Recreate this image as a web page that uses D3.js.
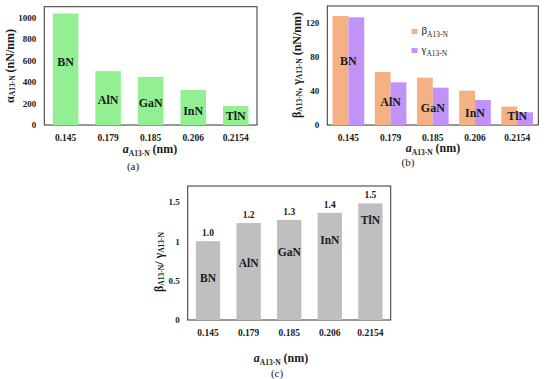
<!DOCTYPE html>
<html>
<head>
<meta charset="utf-8">
<script src="https://cdn.jsdelivr.net/npm/d3@7"></script>
<style>
  body { margin: 0; background: #fff; }
</style>
</head>
<body>
<svg id="drawing_region"></svg>
<script>
// data
const latticeTicks = ["0.145", "0.179", "0.185", "0.206", "0.2154"];
const materials = ["BN", "AlN", "GaN", "InN", "TlN"];
const alphaValues = [1037, 501, 448, 325, 176];
const betaValues = [128.2, 62.4, 55.7, 40.4, 21.6];
const gammaValues = [126.7, 50.2, 43.9, 29.4, 14.9];
const ratioValues = [1.00, 1.23, 1.27, 1.36, 1.48];
const ratioLabels = ["1.0", "1.2", "1.3", "1.4", "1.5"];
const alphaTicks = [0, 200, 400, 600, 800, 1000];
const betaTicks = [0, 40, 80, 120];
const ratioTicks = [0, 0.5, 1, 1.5];

// where the material names sit inside the bars (in data units)
const nameYA = [585, 232, 204, 130, 84];
const nameYB = [75, 27.4, 19.6, 13.8, 11];
const nameYC = [0.53, 0.72, 0.86, 1.02, 1.27];

const FONT = 'Liberation Serif';
const ink = '#1a1a1a';

const svg = d3.select('#drawing_region')
    .attr('width', 550)
    .attr('height', 379)
    .attr('font-family', FONT);

function panel(box, ymax, yticks, tickFmt){
    let g = svg.append('g');
    let x = d3.scaleBand()
        .domain(latticeTicks)
        .range([box.left, box.right]);
    let y = d3.scaleLinear()
        .domain([0, ymax])
        .range([box.bottom, box.top]);

    g.append('rect')
        .attr('x', box.left).attr('y', box.top)
        .attr('width', box.right - box.left)
        .attr('height', box.bottom - box.top)
        .attr('fill', 'none')
        .attr('stroke', '#333')
        .attr('stroke-width', 1);

    let yaxis = g.append('g')
        .attr('transform', `translate(${box.left},0)`)
        .call(d3.axisLeft(y).tickValues(yticks).tickSize(0).tickPadding(8).tickFormat(tickFmt))
        .attr('font-family', FONT);
    yaxis.select('.domain').remove();
    yaxis.selectAll('text')
        .attr('font-size', 9).attr('font-weight', 'bold').attr('fill', ink);

    let xaxis = g.append('g')
        .attr('transform', `translate(0,${box.bottom})`)
        .call(d3.axisBottom(x).tickSize(0).tickPadding(9))
        .attr('font-family', FONT);
    xaxis.select('.domain').remove();
    xaxis.selectAll('text')
        .attr('font-size', 9.5).attr('font-weight', 'bold').attr('fill', ink);

    return {g: g, x: x, y: y};
}

function subText(sel, parts){
    // parts: [text, isSub, italic]
    parts.forEach(p => {
        let t = sel.append('tspan').text(p[0]);
        if(p[1]) t.attr('font-size', 7.5).attr('baseline-shift', '-2.5');
        if(p[2]) t.attr('font-style', 'italic');
    });
}

function xTitle(cx, yy, letter){
    let t = svg.append('text')
        .attr('x', cx).attr('y', yy)
        .attr('text-anchor', 'middle')
        .attr('font-size', 12).attr('font-weight', 'bold').attr('fill', ink);
    subText(t, [['a', false, true], ['A13-N', true], [' (nm)', false]]);
    svg.append('text')
        .attr('x', letter[0]).attr('y', letter[1])
        .attr('text-anchor', 'middle')
        .attr('font-size', 11).attr('fill', ink)
        .text(letter[2]);
}

function yTitle(cx, cy, parts){
    let t = svg.append('text')
        .attr('transform', `translate(${cx},${cy}) rotate(-90)`)
        .attr('text-anchor', 'middle')
        .attr('dominant-baseline', 'central')
        .attr('font-size', 12).attr('font-weight', 'bold').attr('fill', ink);
    subText(t, parts);
}

function names(p, ys, fs){
    p.g.selectAll('text.name')
        .data(materials)
        .enter()
        .append('text')
        .attr('class', 'name')
        .attr('x', (d, i) => p.x(latticeTicks[i]) + p.x.bandwidth() / 2)
        .attr('y', (d, i) => p.y(ys[i]))
        .attr('text-anchor', 'middle')
        .attr('dominant-baseline', 'central')
        .attr('font-size', fs).attr('font-weight', 'bold').attr('fill', ink)
        .text(d => d);
}

// ---- (a) ----
const pa = panel({left: 44.3, right: 257, top: 6.7, bottom: 125}, 1100, alphaTicks, d3.format('d'));
const xa = pa.x.copy().paddingInner(0.4).paddingOuter(0.2);
pa.g.selectAll('rect.bar')
    .data(alphaValues)
    .enter()
    .append('rect')
    .attr('class', 'bar')
    .attr('x', (d, i) => xa(latticeTicks[i]))
    .attr('width', xa.bandwidth())
    .attr('y', d => pa.y(d))
    .attr('height', d => pa.y(0) - pa.y(d))
    .attr('fill', '#92f092');
names(pa, nameYA, 12);
yTitle(10, 66, [['α', false], ['A13-N', true], [' (nN/nm)', false]]);
xTitle(150, 153, [133, 170, '(a)']);

// ---- (b) ----
const pb = panel({left: 327.3, right: 538.3, top: 6, bottom: 125}, 140, betaTicks, d3.format('d'));
const xb = pb.x.copy().paddingInner(0.25).paddingOuter(0.125);
const xsub = d3.scaleBand().domain(['beta', 'gamma']).range([0, xb.bandwidth()]);
const bColor = {beta: '#f4b183', gamma: '#c193f7'};
[['beta', betaValues], ['gamma', gammaValues]].forEach(s => {
    pb.g.selectAll('rect.' + s[0])
        .data(s[1])
        .enter()
        .append('rect')
        .attr('class', s[0])
        .attr('x', (d, i) => xb(latticeTicks[i]) + xsub(s[0]))
        .attr('width', xsub.bandwidth())
        .attr('y', d => pb.y(d))
        .attr('height', d => pb.y(0) - pb.y(d))
        .attr('fill', bColor[s[0]]);
});
names(pb, nameYB, 12);

// legend
const leg = pb.g.append('g').attr('transform', 'translate(411.5,29)');
[['beta', 'β'], ['gamma', 'γ']].forEach((s, i) => {
    leg.append('rect')
        .attr('x', 0).attr('y', i * 19)
        .attr('width', 6).attr('height', 5)
        .attr('fill', bColor[s[0]]);
    let t = leg.append('text')
        .attr('x', 10).attr('y', i * 19 + 5)
        .attr('font-size', 11).attr('fill', ink);
    subText(t, [[s[1], false], ['A13-N', true]]);
});
yTitle(297, 65, [['β', false], ['A13-N', true], [', γ', false], ['A13-N', true], [' (nN/nm)', false]]);
xTitle(433, 152, [408, 166, '(b)']);

// ---- (c) ----
const pc = panel({left: 187.7, right: 390.7, top: 186, bottom: 320}, 1.7, ratioTicks, d => d3.format('')(d));
const xc = pc.x.copy().paddingInner(0.4).paddingOuter(0.2);
pc.g.selectAll('rect.bar')
    .data(ratioValues)
    .enter()
    .append('rect')
    .attr('class', 'bar')
    .attr('x', (d, i) => xc(latticeTicks[i]))
    .attr('width', xc.bandwidth())
    .attr('y', d => pc.y(d))
    .attr('height', d => pc.y(0) - pc.y(d))
    .attr('fill', '#bfbfbf');
pc.g.selectAll('text.val')
    .data(ratioValues)
    .enter()
    .append('text')
    .attr('class', 'val')
    .attr('x', (d, i) => xc(latticeTicks[i]) + xc.bandwidth() / 2)
    .attr('y', d => pc.y(d) - 5)
    .attr('text-anchor', 'middle')
    .attr('font-size', 9.5).attr('font-weight', 'bold').attr('fill', ink)
    .text((d, i) => ratioLabels[i]);
names(pc, nameYC, 11.5);
yTitle(159, 262, [['β', false], ['A13-N', true], ['/ γ', false], ['A13-N', true]]);
xTitle(281, 362, [277, 377, '(c)']);
</script>
</body>
</html>
